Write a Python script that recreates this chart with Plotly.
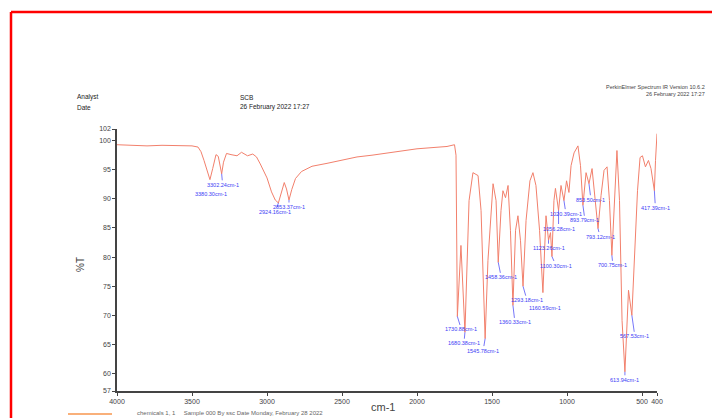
import plotly.graph_objects as go
import numpy as np

# ---------------- data ----------------
wavenumber = [4000, 3900, 3800, 3700, 3600, 3500, 3460, 3440, 3420, 3400,
              3380.30, 3362, 3340, 3325, 3314, 3302.24, 3290, 3270, 3240, 3200,
              3170, 3130, 3095, 3070, 3045, 3000, 2970, 2945, 2924.16, 2905,
              2885, 2870, 2853.37, 2835, 2810, 2770, 2700, 2600, 2500, 2400,
              2300, 2200, 2100, 2000, 1900, 1800, 1750, 1740, 1730.88, 1707,
              1680.38, 1653, 1627, 1610, 1593, 1573, 1545.78, 1527, 1493, 1473,
              1458.36, 1440, 1427, 1410, 1393, 1377, 1360.33, 1343, 1327, 1310,
              1293.18, 1273, 1247, 1227, 1207, 1183, 1160.59, 1140, 1123.26, 1110,
              1100.30, 1087, 1077, 1056.28, 1040, 1020.39, 1003, 987, 973, 953,
              927, 910, 893.79, 873, 853.50, 833, 813, 793.12, 773, 753,
              733, 717, 700.75, 683, 667, 650, 633, 613.94, 597, 590,
              567.53, 547, 530, 513, 497, 477, 457, 440, 417.39, 410, 400]
transmittance = [99.3, 99.2, 99.1, 99.2, 99.2, 99.1, 98.9, 98.1, 96.6, 94.8,
                 93.3, 95.2, 97.6, 97.3, 96.0, 94.3, 96.3, 97.8, 97.6, 97.4,
                 98.0, 97.4, 97.7, 97.2, 96.0, 93.6, 91.2, 89.8, 89.3, 91.2,
                 92.8, 91.7, 89.8, 91.6, 93.5, 94.7, 95.6, 96.1, 96.7, 97.2,
                 97.5, 97.9, 98.3, 98.6, 98.8, 99.0, 99.3, 97.5, 69.8, 82.0,
                 67.1, 89.7, 94.5, 94.2, 94.0, 88.0, 66.0, 79.4, 92.6, 89.7,
                 79.1, 88.0, 91.4, 90.2, 92.3, 84.6, 71.7, 84.6, 87.1, 82.8,
                 75.0, 86.3, 93.1, 94.5, 92.3, 84.6, 73.9, 87.1, 82.9, 84.2,
                 80.1, 89.7, 91.8, 88.0, 92.3, 89.7, 93.1, 91.1, 95.7, 97.9,
                 99.1, 95.7, 88.9, 94.5, 92.6, 95.2, 90.6, 84.9, 90.6, 94.9,
                 95.5, 89.7, 80.3, 91.4, 98.3, 89.7, 69.1, 60.3, 72.6, 74.3,
                 70.0, 81.1, 91.4, 97.1, 97.4, 95.5, 96.6, 95.2, 91.4, 96.6, 101.2]

peak_cm = [3380.30, 3302.24, 2924.16, 2853.37, 1730.88, 1680.38, 1545.78, 1458.36,
           1360.33, 1293.18, 1160.59, 1123.26, 1100.30, 1056.28, 1020.39, 893.79,
           853.50, 793.12, 700.75, 613.94, 567.53, 417.39]

x_ticks = [4000, 3500, 3000, 2500, 2000, 1500, 1000, 500, 400]
y_ticks = [57, 60, 65, 70, 75, 80, 85, 90, 95, 100, 102]

# ---------------- layout helpers ----------------
L, R, T, B = 117, 657, 129, 391
W, H = R - L, B - T
def px(x):
    return (x - L) / W
def py(y):
    return (B - y) / H

# label offsets in pixels (layout only)
label_offsets = [(1, 14), (1, 11), (-3, 9), (0, 7), (4, 13), (-1, 11), (-2, 12), (3, 15),
                 (2, 17), (4, 14), (2, 15), (0, 8), (4, 9), (0, 18), (2, 13), (2, 15),
                 (2, 16), (2, 8), (1, 10), (0, 8), (3, 21), (1, 17)]

fig = go.Figure()
fig.add_trace(go.Scatter(x=wavenumber, y=transmittance, mode="lines",
                         line=dict(color="#f2806c", width=1), hoverinfo="skip",
                         showlegend=False))

w_asc = np.array(wavenumber[::-1])
t_asc = np.array(transmittance[::-1])
BLUE = "#3b3bf5"
annotations = []
for w, (ox, oy) in zip(peak_cm, label_offsets):
    t = float(np.interp(w, w_asc, t_asc))
    annotations.append(dict(x=w, y=t, xref="x", yref="y", text=f"{w:.2f}cm-1",
                            showarrow=True, arrowhead=0, arrowwidth=0.7,
                            arrowcolor=BLUE, ax=ox, ay=oy,
                            font=dict(size=5.5, color=BLUE)))

GREY = "#444444"
FONT = "Arial, Liberation Sans, sans-serif"
def txt(s, x, y, size=6.5, xanchor="left", color=GREY, angle=0):
    return dict(text=s, x=px(x), y=py(y), xref="paper", yref="paper",
                xanchor=xanchor, yanchor="middle", showarrow=False,
                textangle=angle, font=dict(size=size, color=color, family=FONT))

annotations += [
    txt("Analyst", 75, 97, color="#222"),
    txt("Date", 75, 107, color="#222"),
    txt("SCB", 238, 97, color="#222"),
    txt("26 February 2022 17:27", 238, 107, color="#222"),
    txt("PerkinElmer Spectrum IR Version 10.6.2", 707, 87, size=5.5, xanchor="right"),
    txt("26 February 2022 17:27", 707, 94, size=5.5, xanchor="right"),
    txt("%T", 80, 265, size=10, xanchor="center", angle=-90),
    txt("cm-1", 383, 407, size=11, xanchor="center"),
    txt("chemicals 1, 1     Sample 000 By ssc Date Monday, February 28 2022", 135, 413,
        size=6, color="#666"),
]

shapes = [
    dict(type="line", xref="paper", yref="paper", x0=px(11), x1=px(11), y0=py(12), y1=py(430),
         line=dict(color="#ff0000", width=2.5)),
    dict(type="line", xref="paper", yref="paper", x0=px(11), x1=px(720), y0=py(12), y1=py(12),
         line=dict(color="#ff0000", width=2.5)),
    dict(type="line", xref="paper", yref="paper", x0=px(68), x1=px(112), y0=py(414), y1=py(414),
         line=dict(color="#f9b07a", width=2)),
]

fig.update_layout(
    width=712, height=418,
    margin=dict(l=L, r=712 - R, t=T, b=418 - B, pad=0),
    paper_bgcolor="white", plot_bgcolor="white",
    font=dict(family=FONT, color=GREY),
    annotations=annotations, shapes=shapes,
    xaxis=dict(range=[4000, 400], tickvals=x_ticks, ticktext=[str(v) for v in x_ticks],
               showline=True, linecolor=GREY, linewidth=1.5, ticks="outside", ticklen=3,
               tickcolor=GREY, tickfont=dict(size=7, color=GREY), showgrid=False,
               zeroline=False),
    yaxis=dict(range=[57, 102], tickvals=y_ticks, ticktext=[str(v) for v in y_ticks],
               showline=True, linecolor=GREY, linewidth=1.5, ticks="outside", ticklen=3,
               tickcolor=GREY, tickfont=dict(size=7, color=GREY), showgrid=False,
               zeroline=False),
)

fig.write_html("out.html", config={"displayModeBar": False},
               post_script="document.body.style.margin='0';")
